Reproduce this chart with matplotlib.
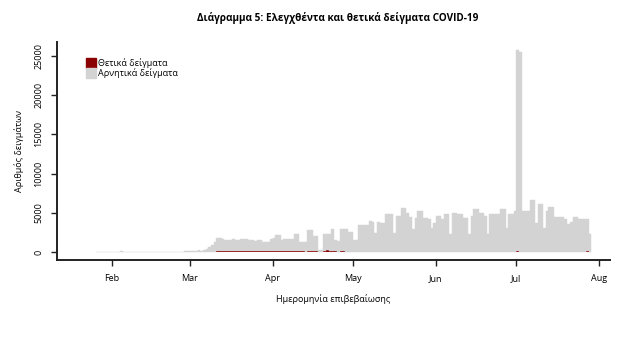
import numpy as np
import pandas as pd
import matplotlib
matplotlib.use("Agg")
import matplotlib.pyplot as plt
from matplotlib.patches import Patch

plt.rcParams['font.family'] = ['Open Sans', 'DejaVu Sans']

# daily negative samples, 2020-01-26 .. 2020-07-28
neg_jan = [0, 0, 0, 0, 0, 0]
neg_feb = [0, 0, 10, 150, 20, 0, 0, 10, 0, 0, 10, 0, 0, 0, 10, 0, 0, 10, 0, 0,
           0, 10, 20, 20, 30, 50, 40, 60, 80]
neg_mar = [90, 100, 120, 180, 160, 200, 350, 550, 800, 1200, 1700, 1700, 1500, 1450, 1400, 1450,
           1500, 1400, 1450, 1500, 1550, 1500, 1400, 1400, 1350, 1400, 1400, 1200, 1150, 1250, 1600]
neg_apr = [1700, 2000, 2000, 1400, 1600, 1600, 1600, 1600, 2150, 2150, 1200, 1200, 1200, 2750, 2750,
           2000, 2000, 200, 200, 2150, 2150, 2150, 2850, 1400, 1400, 2900, 2900, 2900, 2550, 2500]
neg_may = [1450, 1450, 3400, 3400, 3400, 3400, 3950, 3850, 2450, 3850, 3730, 3730, 4790, 4790, 4790,
           2460, 4580, 4580, 5640, 5640, 5000, 4500, 2880, 4370, 5200, 5200, 4370, 4370, 4150, 3000, 3730]
neg_jun = [4580, 4580, 4150, 4790, 4790, 2330, 5000, 5000, 4790, 4790, 4370, 4370, 2330, 4580, 5430,
           5430, 5000, 5000, 4580, 2330, 4790, 4790, 4790, 4790, 5430, 5430, 3090, 4790, 4790, 5210]
neg_jul = [25700, 25500, 5210, 5210, 5210, 6570, 6570, 3730, 6060, 6060, 3090, 5210, 5640, 5640,
           4370, 4370, 4370, 4370, 4150, 3500, 3730, 4370, 4370, 4150, 4150, 4150, 4150, 2250]

# daily positive samples, same days
pos_jan = [0, 0, 0, 0, 0, 0]
pos_feb = [0] * 25 + [1, 0, 0, 1]
pos_mar = [0, 0, 0, 2, 5, 10, 15, 25, 30, 45, 90, 100, 90, 80, 70, 80, 90, 80, 100, 110, 100, 90,
           80, 90, 100, 90, 90, 80, 70, 60, 80]
pos_apr = [90, 100, 110, 90, 80, 70, 80, 90, 100, 90, 60, 70, 50, 60, 80, 70, 60, 30, 30, 150, 200,
           180, 120, 80, 50, 60, 70, 50, 40, 30]
pos_may = [20, 15, 20, 25, 20, 15, 20, 15, 10, 10, 15, 20, 15, 20, 20, 10, 15, 15, 20, 20, 15, 15,
           10, 15, 20, 15, 15, 10, 10, 10, 15]
pos_jun = [15, 10, 15, 10, 20, 10, 15, 20, 15, 15, 10, 20, 10, 15, 20, 25, 20, 15, 20, 10, 20, 25,
           30, 20, 20, 25, 10, 20, 25, 30]
pos_jul = [60, 50, 40, 30, 25, 40, 35, 25, 40, 45, 20, 35, 40, 45, 30, 35, 40, 45, 30, 25, 40, 45,
           50, 40, 45, 50, 55, 30]

neg = np.array(neg_jan + neg_feb + neg_mar + neg_apr + neg_may + neg_jun + neg_jul)
pos = np.array(pos_jan + pos_feb + pos_mar + pos_apr + pos_may + pos_jun + pos_jul)
days = pd.date_range("2020-01-26", periods=len(neg), freq="D")

month_ticks = pd.to_datetime(["2020-02-01", "2020-03-01", "2020-04-01", "2020-05-01",
                              "2020-06-01", "2020-07-01", "2020-08-01"])
month_labels = ["Feb", "Mar", "Apr", "May", "Jun", "Jul", "Aug"]
y_ticks = [0, 5000, 10000, 15000, 20000, 25000]

red = "#8b0000"
grey = "#d3d3d3"

fig = plt.figure(figsize=(6.35, 3.53), dpi=100)
ax = fig.add_axes([57 / 635, 1 - 260 / 353, 553 / 635, 218 / 353])

ax.bar(days, pos, width=1, align="edge", color=red, linewidth=0)
ax.bar(days, neg, width=1, align="edge", bottom=pos, color=grey, linewidth=0.3, edgecolor=grey)

top = (neg + pos).max()
ax.set_ylim(-0.04 * top, 1.04 * top)
ax.set_xlim(pd.Timestamp("2020-01-11 12:00"), pd.Timestamp("2020-08-05"))

ax.set_xticks(month_ticks)
ax.set_xticklabels(month_labels, fontsize=6.5)
ax.set_yticks(y_ticks)
ax.set_yticklabels([str(v) for v in y_ticks], fontsize=6.5, rotation=90, va="center")

for s in ["top", "right"]:
    ax.spines[s].set_visible(False)
for s in ["left", "bottom"]:
    ax.spines[s].set_linewidth(1.4)
    ax.spines[s].set_color("#222222")
ax.tick_params(axis="both", length=4, width=1, color="#222222", pad=6)

ax.set_xlabel("Ημερομηνία επιβεβαίωσης", fontsize=6.5, labelpad=8)
ax.set_ylabel("Αριθμός δειγμάτων", fontsize=6.5, labelpad=7)
fig.text(0.532, 0.948, "Διάγραμμα 5: Ελεγχθέντα και θετικά δείγματα COVID-19",
         ha="center", va="center", fontsize=7.2, fontweight="bold")

handles = [Patch(color=red, label="Θετικά δείγματα"), Patch(color=grey, label="Αρνητικά δείγματα")]
ax.legend(handles=handles, loc="upper left", bbox_to_anchor=(0.052, 0.925), frameon=False,
          fontsize=6.5, handlelength=1.1, handleheight=1.3, handletextpad=0.3,
          labelspacing=0.0, borderpad=0, borderaxespad=0)

fig.savefig("out.png", dpi=100)
